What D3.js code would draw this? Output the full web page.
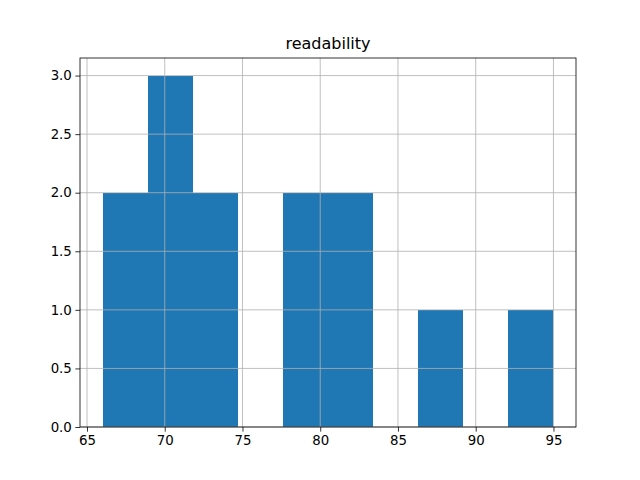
<!DOCTYPE html>
<html>
<head>
<meta charset="utf-8">
<script src="https://cdn.jsdelivr.net/npm/d3@7"></script>
<style>
body{margin:0;background:#fff;}
svg text{font-family:"DejaVu Sans",sans-serif;}
</style>
</head>
<body>
<svg id="chart" width="640" height="480"></svg>
<script>
const title = "readability";
const binEdges = [66, 68.9, 71.8, 74.7, 77.6, 80.5, 83.4, 86.3, 89.2, 92.1, 95];
const counts = [2, 3, 2, 0, 2, 2, 0, 1, 0, 1];
const xTicks = [65, 70, 75, 80, 85, 90, 95];
const yTicks = [0, 0.5, 1.0, 1.5, 2.0, 2.5, 3.0];

const svg = d3.select("#chart");
const m = {left: 80, right: 576, top: 58, bottom: 427};
const lo = binEdges[0], hi = binEdges[binEdges.length-1];
const pad = (hi - lo) * 0.05;
const x = d3.scaleLinear().domain([lo - pad, hi + pad]).range([m.left, m.right]);
const y = d3.scaleLinear().domain([0, d3.max(counts) * 1.05]).range([m.bottom, m.top]);

const bins = counts.map((c, i) => ({x0: binEdges[i], x1: binEdges[i+1], c}));
svg.append("g").attr("shape-rendering", "crispEdges").selectAll("rect").data(bins).enter().append("rect")
  .attr("x", d => x(d.x0))
  .attr("width", d => x(d.x1) - x(d.x0))
  .attr("y", d => y(d.c))
  .attr("height", d => y(0) - y(d.c))
  .attr("fill", "#1f77b4");

// grid
const grid = svg.append("g").attr("stroke", "#b0b0b0").attr("stroke-width", 0.8);
xTicks.forEach(t => grid.append("line").attr("x1", x(t)).attr("x2", x(t)).attr("y1", m.top).attr("y2", m.bottom));
yTicks.forEach(t => grid.append("line").attr("x1", m.left).attr("x2", m.right).attr("y1", y(t)).attr("y2", y(t)));

// axes
const xAxis = d3.axisBottom(x).tickValues(xTicks).tickFormat(d3.format("d")).tickSizeInner(4.67).tickSizeOuter(0).tickPadding(3.5);
const yAxis = d3.axisLeft(y).tickValues(yTicks).tickFormat(d3.format(".1f")).tickSizeInner(4.67).tickSizeOuter(0).tickPadding(3.5);
const gx = svg.append("g").attr("transform", `translate(0,${m.bottom})`).call(xAxis);
const gy = svg.append("g").attr("transform", `translate(${m.left},0)`).call(yAxis);
[gx, gy].forEach(g => {
  g.select(".domain").remove();
  g.selectAll("text").attr("font-size", "13.33px").attr("fill", "#000").attr("font-family", "DejaVu Sans, sans-serif");
  g.selectAll("line").attr("stroke", "#000").attr("stroke-width", 0.8);
});

// frame
svg.append("rect").attr("x", m.left).attr("y", m.top).attr("width", m.right - m.left).attr("height", m.bottom - m.top)
  .attr("fill", "none").attr("stroke", "#000").attr("stroke-width", 0.8);

svg.append("text").attr("x", (m.left + m.right) / 2).attr("y", 49).attr("text-anchor", "middle")
  .attr("font-size", "16px").attr("fill", "#000").text(title);
</script>
</body>
</html>
